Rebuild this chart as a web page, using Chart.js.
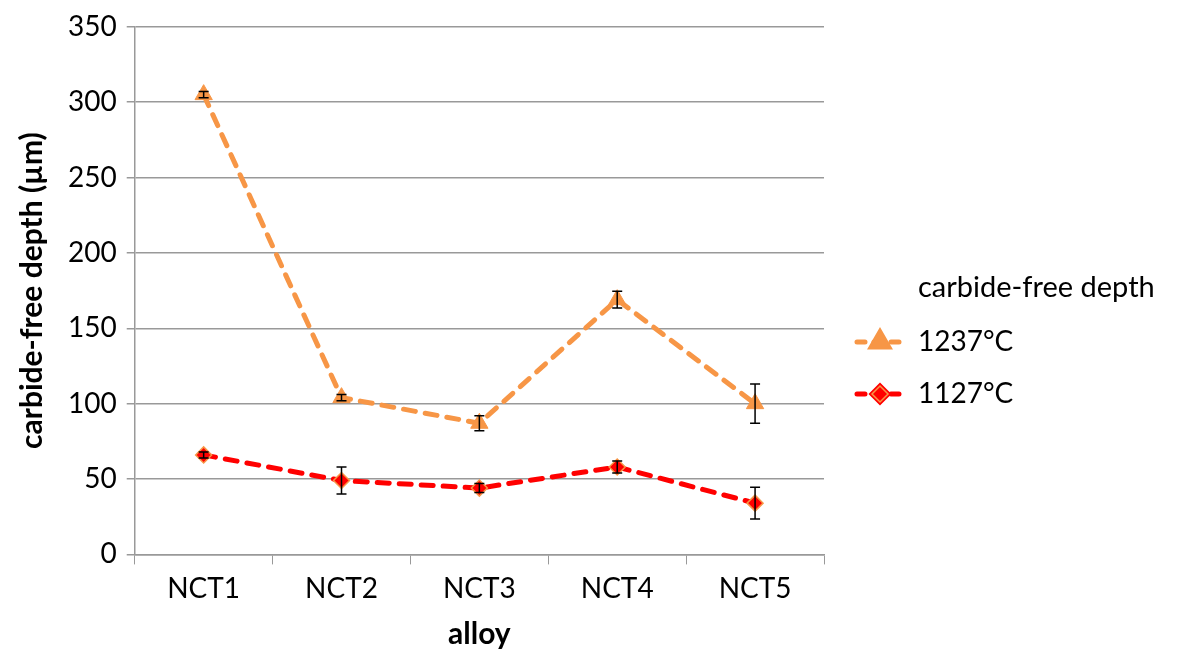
<!DOCTYPE html>
<html>
<head>
<meta charset="utf-8">
<script src="https://cdn.jsdelivr.net/npm/chart.js@4"></script>
<style>
  html, body { margin: 0; padding: 0; background: #fff; }
  #wrap { width: 1184px; height: 664px; }
</style>
</head>
<body>
<div id="wrap"><canvas id="depthChart"></canvas></div>
<script>
// categories and values
var alloys = ["NCT1", "NCT2", "NCT3", "NCT4", "NCT5"];
var depth1237 = [305, 104, 87, 169, 100];
var err1237 = [2, 2, 5, 5.5, 13];
var depth1127 = [66, 49, 44, 58, 34];
var err1127 = [2, 9, 3, 4, 10.5];
var yTicks = [0, 50, 100, 150, 200, 250, 300, 350];

var FONT = "Lato";

// error bars, drawn from the data through the chart scales
var errorBarPlugin = {
  id: "errorBars",
  afterDatasetsDraw: function (chart) {
    var ctx = chart.ctx;
    var yScale = chart.scales.y;
    ctx.save();
    ctx.strokeStyle = "#000";
    ctx.lineWidth = 1.5;
    chart.data.datasets.forEach(function (ds, i) {
      var meta = chart.getDatasetMeta(i);
      meta.data.forEach(function (pt, j) {
        var e = ds.errors[j];
        var top = yScale.getPixelForValue(ds.data[j] + e);
        var bot = yScale.getPixelForValue(ds.data[j] - e);
        ctx.beginPath();
        ctx.moveTo(pt.x, top); ctx.lineTo(pt.x, bot);
        ctx.moveTo(pt.x - 5, top); ctx.lineTo(pt.x + 5, top);
        ctx.moveTo(pt.x - 5, bot); ctx.lineTo(pt.x + 5, bot);
        ctx.stroke();
      });
    });
    ctx.restore();
  }
};

// legend on the right: title plus line+marker entries
var sideLegendPlugin = {
  id: "sideLegend",
  afterDraw: function (chart) {
    var ctx = chart.ctx;
    var x0 = chart.chartArea.right + 31;
    var yTitle = 288;
    ctx.save();
    ctx.fillStyle = "#000";
    ctx.textBaseline = "middle";
    ctx.font = "29px " + FONT;
    ctx.fillText("carbide-free depth", x0 + 63, yTitle);
    ctx.font = "28px " + FONT;
    chart.data.datasets.forEach(function (ds, i) {
      var y = yTitle + 54 + i * 52;
      ctx.strokeStyle = ds.borderColor;
      ctx.lineWidth = ds.borderWidth;
      ctx.setLineDash([8, 9]);
      ctx.lineCap = "round";
      ctx.beginPath();
      ctx.moveTo(x0 + 2, y); ctx.lineTo(x0 + 50, y);
      ctx.stroke();
      ctx.setLineDash([]);
      Chart.helpers.drawPoint(ctx, {
        pointStyle: ds.pointStyle,
        radius: ds.pointRadius,
        borderWidth: 1
      }, x0 + 25, y);
      ctx.fillStyle = ds.pointBackgroundColor;
      ctx.strokeStyle = ds.pointBorderColor;
      ctx.lineWidth = ds.pointBorderWidth;
      ctx.fill();
      ctx.stroke();
      ctx.fillStyle = "#000";
      ctx.fillText(ds.label, x0 + 63, y);
    });
    ctx.restore();
  }
};

var data = {
  labels: alloys,
  datasets: [
    {
      label: "1237°C",
      data: depth1237,
      errors: err1237,
      borderColor: "#F79646",
      borderWidth: 5,
      borderDash: [12, 10],
      borderCapStyle: "round",
      pointStyle: "triangle",
      pointRadius: 10,
      pointBackgroundColor: "#F79646",
      pointBorderColor: "#F79646",
      pointBorderWidth: 1,
      tension: 0,
      fill: false
    },
    {
      label: "1127°C",
      data: depth1127,
      errors: err1127,
      borderColor: "#FF0000",
      borderWidth: 5,
      borderDash: [12, 10],
      borderCapStyle: "round",
      pointStyle: "rectRot",
      pointRadius: 8,
      pointBackgroundColor: "#FF0000",
      pointBorderColor: "#F79646",
      pointBorderWidth: 1.5,
      tension: 0,
      fill: false
    }
  ]
};

var options = {
  responsive: true,
  maintainAspectRatio: false,
  animation: false,
  layout: {
    padding: { top: -3, right: 360, left: 10, bottom: 8 }
  },
  scales: {
    x: {
      type: "category",
      offset: true,
      grid: {
        offset: true,
        drawOnChartArea: false,
        drawTicks: true,
        tickLength: 10,
        color: "#999"
      },
      border: { color: "#999", width: 1.5 },
      ticks: { color: "#000", font: { family: FONT, size: 28 }, padding: 8 },
      title: {
        display: true,
        text: "alloy",
        color: "#000",
        font: { family: FONT, size: 30, weight: "bold" },
        padding: { top: 2 }
      }
    },
    y: {
      min: 0,
      max: 350,
      afterBuildTicks: function (axis) {
        axis.ticks = yTicks.map(function (v) { return { value: v }; });
      },
      grid: { color: "#999", lineWidth: 1.5, tickLength: 8 },
      border: { color: "#999", width: 1.5 },
      ticks: { color: "#000", font: { family: FONT, size: 28 }, padding: 10 },
      title: {
        display: true,
        text: "carbide-free depth (µm)",
        color: "#000",
        font: { family: FONT, size: 30, weight: "bold" },
        padding: { bottom: 8 }
      }
    }
  },
  plugins: {
    legend: { display: false },
    tooltip: { enabled: false }
  }
};

var ctx = document.getElementById("depthChart").getContext("2d");
var depthChart = new Chart(ctx, {
  type: "line",
  data: data,
  options: options,
  plugins: [errorBarPlugin, sideLegendPlugin]
});
</script>
</body>
</html>
